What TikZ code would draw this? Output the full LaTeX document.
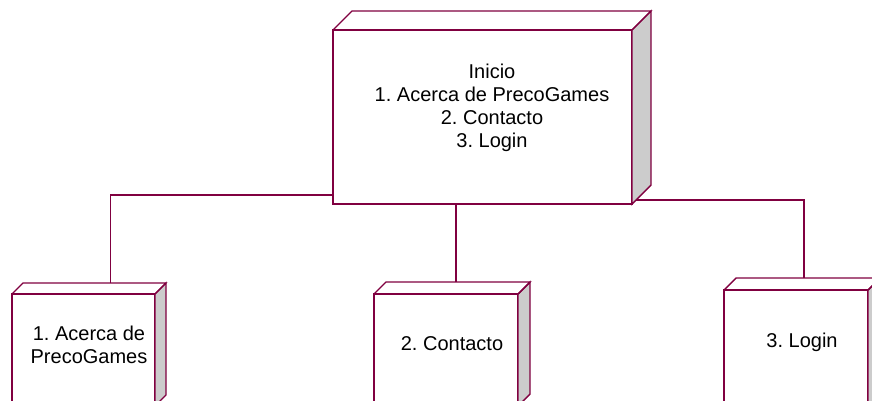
\documentclass[tikz,border=0pt]{standalone}
\usepackage{fontspec}
\setmainfont{Liberation Sans}
\frenchspacing
\definecolor{nodeline}{RGB}{128,0,64}
\definecolor{sidegray}{RGB}{204,204,204}
\tikzset{
  frontface/.style={draw=nodeline, line width=2pt, fill=white, inner sep=0pt, outer sep=0pt, anchor=north west},
  backedge/.style={draw=nodeline, line width=1.4pt, line join=miter},
  sideface/.style={fill=sidegray, draw=nodeline, line width=1.4pt, line join=miter},
  boxtext/.style={align=center, font=\fontsize{20}{23}\selectfont, inner sep=0pt},
  conn/.style={draw=nodeline, line width=1.3pt},
}
% 3D node: #1 name, #2 left, #3 top, #4 right, #5 bottom, #6 depth, #7 text
\newcommand\solidbox[7]{%
  \node[frontface, minimum width={(#4-#2)*1pt}, minimum height={(#5-#3)*1pt}] (#1) at (#2,#3) {};
  \filldraw[sideface] (#1.north east) -- ++(#6pt,#6pt) -- ([shift={(#6pt,#6pt)}]#1.south east) -- (#1.south east) -- cycle;
  \draw[backedge] (#1.north west) -- ++(#6pt,#6pt) -- ([shift={(#6pt,#6pt)}]#1.north east) -- (#1.north east);
  \node[boxtext] (#1-text) at ([shift={({#6*0.5pt},{#6*0.5pt})}]#1.center) {#7};
}
\begin{document}
\begin{tikzpicture}[x=1pt,y=-1pt]
\useasboundingbox (0,0) rectangle (872,401);
\clip (0,0) rectangle (872,401);
\fill[white] (0,0) rectangle (872,401);

\solidbox{inicio}{333}{30}{632}{204}{19}{Inicio\\1. Acerca de PrecoGames\\2. Contacto\\3. Login}
\solidbox{acerca}{12}{294}{155}{406}{11}{1. Acerca de\\PrecoGames}
\solidbox{contacto}{374}{294}{518}{406}{12}{2. Contacto}
\solidbox{login}{724}{290}{868}{406}{12}{3. Login}

\draw[conn] ([yshift=9pt]inicio.south west) -| ([xshift=27pt,yshift=11pt]acerca.north);
\draw[conn] ([xshift=10pt]contacto.north |- inicio.south) -- ([xshift=10pt,yshift=12pt]contacto.north);
\draw[conn] ([xshift=4pt,yshift=4pt]inicio.south east) -| ([xshift=8pt,yshift=12pt]login.north);
\end{tikzpicture}
\end{document}
